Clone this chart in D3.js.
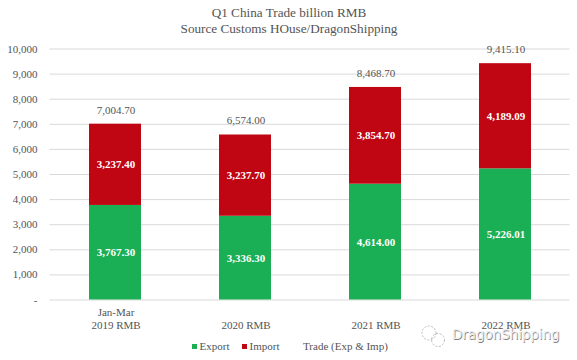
<!DOCTYPE html>
<html>
<head>
<meta charset="utf-8">
<script src="https://cdnjs.cloudflare.com/ajax/libs/d3/7.8.5/d3.min.js"></script>
<style>
  html, body { margin: 0; padding: 0; background: #fff; overflow: hidden; }
  text { font-family: "Liberation Serif", serif; }
</style>
</head>
<body>
<script>
var categories = ['2019', '2020', '2021', '2022']
var category_lines = [['Jan-Mar', '2019 RMB'], ['2020 RMB'], ['2021 RMB'], ['2022 RMB']]
var exports_rmb = [3767.30, 3336.30, 4614.00, 5226.01]
var imports_rmb = [3237.40, 3237.70, 3854.70, 4189.09]
var totals_rmb = [7004.70, 6574.00, 8468.70, 9415.10]
var y_ticks = [0, 1000, 2000, 3000, 4000, 5000, 6000, 7000, 8000, 9000, 10000]
var title_lines = ['Q1 China Trade billion RMB', 'Source Customs HOuse/DragonShipping']

var green = '#1aaf54'
var red = '#c00613'
var grey = '#545454'

var svg = d3.select('body').append('svg')
  .attr('width', 577)
  .attr('height', 360)

var x = d3.scaleBand().domain(categories).range([50, 570]).paddingInner(0.6).paddingOuter(0.3)
var y = d3.scaleLinear().domain([0, 10000]).range([299.5, 48.5])
var fmt = d3.format(',.2f')

// title
svg.append('g').selectAll('text').data(title_lines).enter().append('text')
  .attr('x', 289)
  .attr('y', function (d, i) { return 17 + i * 15.5 })
  .attr('text-anchor', 'middle')
  .attr('font-size', 13.2)
  .attr('fill', grey)
  .text(function (d) { return d })

// y axis, gridlines are the ticks
var y_axis = d3.axisLeft(y)
  .tickValues(y_ticks)
  .tickSize(-520)
  .tickPadding(12)
  .tickFormat(function (d) { return d === 0 ? '-' : d3.format(',')(d) })

var g_y = svg.append('g').attr('transform', 'translate(49.5,0)').call(y_axis)
g_y.select('.domain').remove()
g_y.selectAll('line').attr('stroke', '#d9d9d9').attr('stroke-width', 1)
g_y.selectAll('text')
  .attr('font-family', '"Liberation Serif", serif')
  .attr('font-size', 11)
  .attr('fill', grey)

// stacked bars
var bars = svg.append('g')
categories.forEach(function (c, i) {
  bars.append('rect')
    .attr('x', x(c))
    .attr('y', y(exports_rmb[i]))
    .attr('width', x.bandwidth())
    .attr('height', y(0) - y(exports_rmb[i]))
    .attr('fill', green)
  bars.append('rect')
    .attr('x', x(c))
    .attr('y', y(exports_rmb[i] + imports_rmb[i]))
    .attr('width', x.bandwidth())
    .attr('height', y(exports_rmb[i]) - y(exports_rmb[i] + imports_rmb[i]))
    .attr('fill', red)

  var cx = x(c) + x.bandwidth() / 2 + 1
  bars.append('text')
    .attr('x', cx)
    .attr('y', y(exports_rmb[i] / 2) + 4)
    .attr('text-anchor', 'middle')
    .attr('font-size', 11)
    .attr('font-weight', 'bold')
    .attr('fill', '#fff')
    .text(fmt(exports_rmb[i]))
  bars.append('text')
    .attr('x', cx)
    .attr('y', y(exports_rmb[i] + imports_rmb[i] / 2) + 4)
    .attr('text-anchor', 'middle')
    .attr('font-size', 11)
    .attr('font-weight', 'bold')
    .attr('fill', '#fff')
    .text(fmt(imports_rmb[i]))
  bars.append('text')
    .attr('x', cx)
    .attr('y', y(totals_rmb[i]) - 10)
    .attr('text-anchor', 'middle')
    .attr('font-size', 11)
    .attr('fill', grey)
    .text(fmt(totals_rmb[i]))

  // category labels, last line sits on a common baseline
  var lines = category_lines[i]
  lines.forEach(function (t, j) {
    bars.append('text')
      .attr('x', cx)
      .attr('y', 329 - (lines.length - 1 - j) * 13)
      .attr('text-anchor', 'middle')
      .attr('font-size', 11)
      .attr('fill', grey)
      .text(t)
  })
})

// legend
var legend = [
  { name: 'Export', color: green, x: 192 },
  { name: 'Import', color: red, x: 242 },
  { name: 'Trade (Exp & Imp)', color: null, x: 303 }
]
legend.forEach(function (l) {
  if (l.color) {
    svg.append('rect')
      .attr('x', l.x)
      .attr('y', 344)
      .attr('width', 5)
      .attr('height', 5)
      .attr('fill', l.color)
  }
  svg.append('text')
    .attr('x', l.color ? l.x + 7.5 : l.x)
    .attr('y', 350)
    .attr('font-size', 11)
    .attr('fill', grey)
    .text(l.name)
})

// watermark
var wm = svg.append('g')
wm.append('text')
  .attr('x', 452.7)
  .attr('y', 339.7)
  .style('font-family', '"DejaVu Sans", sans-serif')
  .style('font-size', '13.4px')
  .attr('fill', '#666')
  .attr('opacity', 0.8)
  .text('DragonShipping')
wm.append('text')
  .attr('x', 452)
  .attr('y', 339)
  .style('font-family', '"DejaVu Sans", sans-serif')
  .style('font-size', '13.4px')
  .attr('fill', '#efefef')
  .text('DragonShipping')
wm.append('circle').attr('cx', 429).attr('cy', 333).attr('r', 7).attr('fill', 'none').attr('stroke', '#bbb').attr('stroke-dasharray', '2 1.5')
wm.append('circle').attr('cx', 438).attr('cy', 340).attr('r', 6.5).attr('fill', 'none').attr('stroke', '#bbb').attr('stroke-dasharray', '2 1.5')
</script>
</body>
</html>
